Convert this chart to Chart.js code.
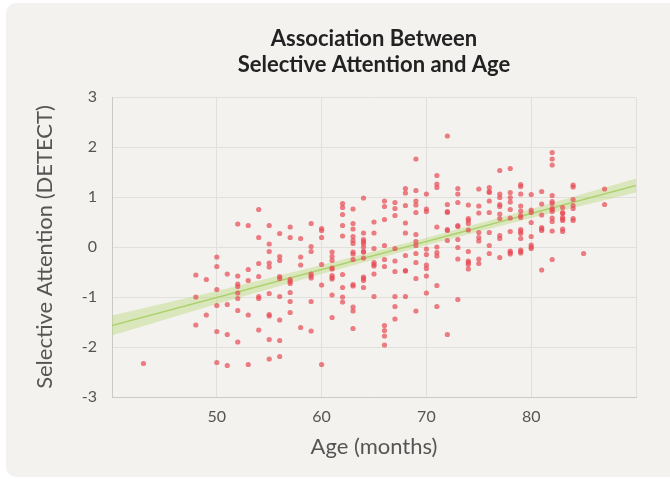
<!DOCTYPE html>
<html>
<head>
<meta charset="utf-8">
<script src="https://cdn.jsdelivr.net/npm/chart.js@4"></script>
<style>
  body { margin: 0; background: #fff; width: 670px; height: 479px; overflow: hidden; }
  .card { position: absolute; left: 6px; top: 3px; width: 680px; height: 474px; background: #f3f2ee; border-radius: 10px; }
  #chart { position: absolute; left: 0; top: 0; }
</style>
</head>
<body>
<div class="card"></div>
<canvas id="chart" width="670" height="479"></canvas>
<script>
// === Data ===
const ageMonths = [43, 48, 49, 50, 51, 52, 53, 54, 55, 56, 57, 58, 59, 60, 61, 62, 63, 64, 65,
  66, 67, 68, 69, 70, 71, 72, 73, 74, 75, 76, 77, 78, 79, 80, 81, 82, 83, 84, 85, 87];

// selective attention scores (DETECT), one list per age
const attentionByAge = [
  [-2.33],
  [-0.56, -1.0, -1.56],
  [-0.65, -1.36],
  [-0.2, -0.39, -0.85, -1.17, -1.69, -2.31],
  [-0.54, -1.15, -1.75, -2.37],
  [0.46, -0.58, -0.74, -0.79, -0.92, -1.03, -1.27, -1.9],
  [0.43, -0.45, -0.67, -1.36, -2.35],
  [0.75, 0.19, -0.33, -0.59, -0.99, -1.03, -1.66],
  [0.43, 0.06, -0.09, -0.32, -0.40, -0.93, -1.35, -1.38, -1.85, -2.24],
  [0.27, -0.19, -0.27, -0.59, -0.63, -0.99, -1.46, -1.87, -2.19],
  [0.40, 0.19, -0.65, -0.69, -0.73, -0.91, -1.09, -1.31],
  [0.17, -0.20, -0.36, -1.61],
  [0.47, 0.01, -0.09, -0.54, -0.58, -0.62, -1.09, -1.68],
  [0.37, 0.33, 0.19, -0.35, -0.76, -2.35],
  [-0.10, -0.19, -0.27, -0.42, -0.44, -0.57, -0.61, -0.64, -0.96, -1.41],
  [0.87, 0.79, 0.65, 0.43, 0.22, -0.55, -0.81, -1.0, -1.10],
  [0.76, 0.47, 0.36, 0.21, 0.13, 0.07, -0.10, -0.14, -0.25, -0.75, -0.78, -1.20, -1.28, -1.63],
  [0.98, 0.28, 0.15, 0.11, 0.07, 0.0, -0.09, -0.10, -0.22, -0.60, -0.63, -0.67, -0.81],
  [0.50, 0.28, -0.03, -0.31, -0.35, -0.38, -0.54, -0.99],
  [0.92, 0.81, 0.55, 0.03, -0.25, -0.39, -1.57, -1.67, -1.78, -1.96],
  [0.89, 0.77, 0.63, -0.03, -0.28, -0.49, -0.99, -1.19, -1.44],
  [1.17, 1.08, 0.83, 0.48, 0.28, -0.17, -0.47, -0.48, -0.99],
  [1.76, 1.13, 0.92, 0.84, 0.69, 0.25, 0.11, 0.03, -0.13, -0.31, -0.63, -1.28],
  [1.06, 0.76, 0.71, -0.04, -0.15, -0.36, -0.43, -0.58, -0.92],
  [1.43, 1.26, 1.19, 0.40, 0.0, -0.11, -0.18, -0.77, -1.19],
  [2.22, 0.85, 0.71, 0.69, 0.35, 0.33, 0.13, -1.75],
  [1.17, 1.06, 0.89, 0.43, 0.41, 0.15, -0.01, -0.24, -1.05],
  [0.84, 0.57, 0.53, 0.47, 0.34, -0.09, -0.28, -0.31, -0.35, -0.44],
  [1.16, 0.82, 0.68, 0.29, 0.19, 0.12, -0.24, -0.33],
  [1.19, 1.11, 1.09, 0.92, 0.69, 0.29, 0.03, -0.13],
  [1.53, 1.06, 0.99, 0.85, 0.81, 0.66, 0.57, 0.23, 0.17, -0.21],
  [1.57, 1.09, 0.99, 0.90, 0.75, 0.58, 0.31, -0.08, -0.11, -0.14],
  [1.25, 1.21, 1.06, 0.82, 0.72, 0.63, 0.59, 0.35, 0.31, 0.27, 0.17, -0.06, -0.09, -0.12],
  [1.05, 0.74, 0.69, 0.49, 0.21, 0.04, 0.0, -0.03],
  [1.11, 0.86, 0.64, 0.39, 0.36, 0.33, -0.46],
  [1.89, 1.76, 1.64, 1.03, 0.91, 0.87, 0.77, 0.75, 0.71, 0.58, 0.51, 0.32, -0.25],
  [0.79, 0.69, 0.67, 0.59, 0.56, 0.53, 0.36, 0.31],
  [1.24, 1.20, 0.95, 0.83, 0.77, 0.57, 0.53],
  [-0.13],
  [1.16, 0.85]
];

// fitted line and its confidence band
const fitAges = [40, 50, 60, 70, 80, 90];
const fitLine = [-1.57, -1.01, -0.45, 0.11, 0.67, 1.23];
const bandUpper = [-1.37, -0.88, -0.36, 0.185, 0.76, 1.37];
const bandLower = [-1.77, -1.14, -0.54, 0.035, 0.58, 1.09];

const xTicks = [50, 60, 70, 80];
const titleLines = ['Association Between', 'Selective Attention and Age'];

// === Build datasets ===
const scatterPoints = ageMonths.flatMap((age, i) => attentionByAge[i].map(v => ({ x: age, y: v })));
const toXY = (vals) => fitAges.map((a, i) => ({ x: a, y: vals[i] }));

const FONT = 'Lato, "Open Sans", sans-serif';
const TEXT = '#555555';

// title centred over the plot area, like the reference
const plotTitle = {
  id: 'plotTitle',
  afterDraw(chart) {
    const { ctx, chartArea } = chart;
    const cx = (chartArea.left + chartArea.right) / 2;
    ctx.save();
    ctx.fillStyle = '#222222';
    ctx.font = `bold 22px ${FONT}`;
    ctx.textAlign = 'center';
    ctx.textBaseline = 'middle';
    ctx.fillText(titleLines[0], cx, 39);
    ctx.fillText(titleLines[1], cx, 65);
    ctx.restore();
  }
};

new Chart(document.getElementById('chart').getContext('2d'), {
  type: 'scatter',
  data: {
    datasets: [
      {
        label: 'Children',
        data: scatterPoints,
        pointRadius: 2.6,
        pointBorderWidth: 0,
        backgroundColor: 'rgba(232, 78, 88, 0.72)'
      },
      {
        label: 'band upper',
        data: toXY(bandUpper),
        showLine: true,
        pointRadius: 0,
        borderWidth: 0,
        borderColor: 'rgba(0,0,0,0)',
        backgroundColor: 'rgba(184, 216, 122, 0.42)',
        fill: '+1'
      },
      {
        label: 'band lower',
        data: toXY(bandLower),
        showLine: true,
        pointRadius: 0,
        borderWidth: 0,
        borderColor: 'rgba(0,0,0,0)',
        fill: false
      },
      {
        label: 'fit',
        data: toXY(fitLine),
        showLine: true,
        pointRadius: 0,
        borderWidth: 1.5,
        borderColor: '#a6cb66',
        fill: false
      }
    ]
  },
  options: {
    responsive: false,
    animation: false,
    layout: { padding: { top: 97, right: 34, left: 0, bottom: 0 } },
    plugins: {
      legend: { display: false },
      tooltip: { enabled: false }
    },
    scales: {
      x: {
        type: 'linear',
        min: 40,
        max: 90,
        afterBuildTicks: (axis) => { axis.ticks = [40, ...xTicks, 90].map(v => ({ value: v })); },
        afterFit: (axis) => { axis.height = 82; },
        grid: { color: '#e1e0dc', drawTicks: false },
        border: { color: '#c9c9c9' },
        ticks: {
          padding: 10,
          color: TEXT,
          font: { family: FONT, size: 16 },
          callback: (v) => xTicks.includes(v) ? String(v) : ''
        },
        title: {
          display: true,
          text: 'Age (months)',
          color: TEXT,
          font: { family: FONT, size: 22 },
          padding: { top: 0, bottom: 19 }
        }
      },
      y: {
        min: -3,
        max: 3,
        afterFit: (axis) => { axis.width = 112; },
        grid: { color: '#e1e0dc', drawTicks: false },
        border: { color: '#c9c9c9' },
        ticks: {
          stepSize: 1,
          padding: 15,
          color: TEXT,
          font: { family: FONT, size: 16 }
        },
        title: {
          display: true,
          text: 'Selective Attention (DETECT)',
          color: TEXT,
          font: { family: FONT, size: 22 },
          padding: { top: 32, bottom: 0 }
        }
      }
    }
  },
  plugins: [plotTitle]
});
</script>
</body>
</html>
